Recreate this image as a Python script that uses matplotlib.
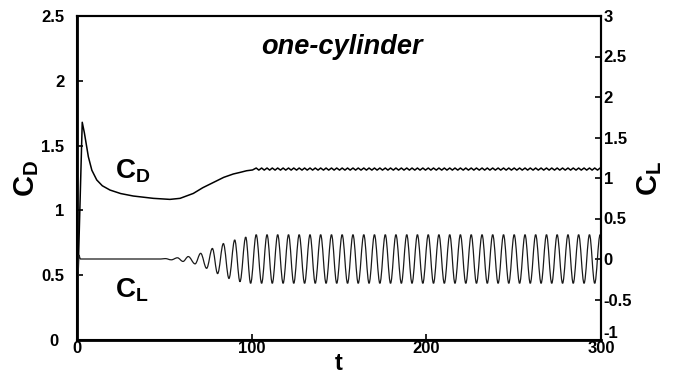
import numpy as np
import matplotlib
matplotlib.use("Agg")
import matplotlib.pyplot as plt
import matplotlib.transforms as mtransforms
from matplotlib.path import Path
from matplotlib.patches import PathPatch

plt.rcParams['font.family'] = ['Liberation Sans', 'DejaVu Sans']
plt.rcParams['mathtext.fontset'] = 'custom'
plt.rcParams['mathtext.bf'] = 'Liberation Sans:bold'
plt.rcParams['mathtext.rm'] = 'Liberation Sans:bold'
plt.rcParams['mathtext.it'] = 'Liberation Sans:bold:italic'

# ---------------- data ----------------
# drag coefficient: start-up transient (mean curve)
cd_t = [0, 0.3, 3.0, 4.2, 6.5, 8.5, 11.3, 14.5, 18.9, 25, 32.2, 43.7, 53.2,
        59, 66.6, 72, 78, 84, 89.5, 93.3, 97.1, 100.5]
cd_v = [0, 0.35, 1.68, 1.60, 1.414, 1.31, 1.235, 1.19, 1.157, 1.13, 1.111,
        1.093, 1.085, 1.093, 1.131, 1.175, 1.215, 1.255, 1.281, 1.293, 1.306, 1.312]

# drag coefficient: small wiggle in the periodic regime
cd_hi_t = [102.6, 105.7, 108.8, 111.8, 114.9, 118.0, 121.1, 124.1, 127.2, 130.3,
           133.4, 136.4, 139.5, 142.6, 145.7, 148.7, 151.8, 154.9, 158.0, 161.0,
           164.2, 167.2, 170.3, 173.4, 176.5, 179.5, 182.6, 185.7, 188.8, 191.8,
           194.9, 198.0, 201.1, 204.1, 207.2, 210.3, 213.4, 216.4, 219.5, 222.6,
           225.7, 228.7, 231.9, 234.9, 238.0, 241.1, 244.2, 247.2, 250.3, 253.4,
           256.5, 259.5, 262.6, 265.7, 268.8, 271.8, 274.9, 278.0, 281.1, 284.1,
           287.2, 290.3, 293.4, 296.4, 299.5]
cd_lo_t = [104.1, 107.2, 110.3, 113.4, 116.5, 119.5, 122.6, 125.7, 128.8, 131.8,
           134.9, 138.0, 141.1, 144.1, 147.2, 150.3, 153.4, 156.4, 159.5, 162.6,
           165.7, 168.8, 171.8, 174.9, 178.0, 181.1, 184.1, 187.2, 190.3, 193.4,
           196.4, 199.5, 202.6, 205.7, 208.8, 211.8, 214.9, 218.0, 221.1, 224.1,
           227.2, 230.3, 233.4, 236.4, 239.5, 242.6, 245.7, 248.7, 251.8, 254.9,
           258.0, 261.1, 264.1, 267.2, 270.3, 273.4, 276.4, 279.5, 282.6, 285.7,
           288.7, 291.8, 294.9, 298.0]
cd_hi_v = 1.327
cd_lo_v = 1.311

# lift coefficient: extrema of the signal (start-up, growth, periodic regime)
cl_t = [0, 0.4, 1.0, 2.0, 48, 50.5, 54, 57.5, 60.7, 63.7, 67.6, 70.8, 74.2,
        77.5, 80.5, 83.8, 87.0, 90.3, 93.3, 96.6, 99.4] + cd_hi_t + [300]
cl_v = [0, -0.6, 0.05, 0, 0, 0.005, -0.01, 0.015, -0.03, 0.03, -0.06, 0.07,
        -0.115, 0.13, -0.18, 0.19, -0.24, 0.235, -0.28, 0.27, -0.30,
        0.30, -0.30, 0.30, -0.30, 0.30, -0.30, 0.30, -0.30, 0.30, -0.30,
        0.30, -0.30, 0.30, -0.30, 0.30, -0.30, 0.30, -0.30, 0.30, -0.30,
        0.30, -0.30, 0.30, -0.30, 0.30, -0.30, 0.30, -0.30, 0.30, -0.30,
        0.30, -0.30, 0.30, -0.30, 0.30, -0.30, 0.30, -0.30, 0.30, -0.30,
        0.30, -0.30, 0.30, -0.30, 0.30, -0.30, 0.30, -0.30, 0.30, -0.30,
        0.30, -0.30, 0.30, -0.30, 0.30, -0.30, 0.30, -0.30, 0.30, -0.30,
        0.30, -0.30, 0.30, -0.30, 0.30, 0.29]

x_ticks = [0, 100, 200, 300]
cd_ticks = [0, 0.5, 1, 1.5, 2, 2.5]
cd_tick_labels = ['0', '0.5', '1', '1.5', '2', '2.5']
cl_ticks = [-1, -0.5, 0, 0.5, 1, 1.5, 2, 2.5, 3]
cl_tick_labels = ['-1', '-0.5', '0', '0.5', '1', '1.5', '2', '2.5', '3']

# ---------------- assemble CD series ----------------
wig = sorted([(t, cd_hi_v) for t in cd_hi_t] + [(t, cd_lo_v) for t in cd_lo_t])
cd_all_t = cd_t + [w[0] for w in wig]
cd_all_v = cd_v + [w[1] for w in wig]

# ---------------- figure ----------------
fig = plt.figure(figsize=(6.78, 3.76), dpi=100)
ax = fig.add_axes([77/678, 36/376, 524/678, 324/376])
ax2 = ax.twinx()

ax.plot(cd_all_t, cd_all_v, color='black', lw=1.1, zorder=3)

# CL drawn as smooth Bezier segments between its read extrema
c = 0.363
verts = [(cl_t[0], cl_v[0])]
codes = [Path.MOVETO]
for i in range(len(cl_t) - 1):
    t0, v0, t1, v1 = cl_t[i], cl_v[i], cl_t[i + 1], cl_v[i + 1]
    dt = t1 - t0
    verts += [(t0 + c * dt, v0), (t1 - c * dt, v1), (t1, v1)]
    codes += [Path.CURVE4] * 3
ax2.add_patch(PathPatch(Path(verts, codes), fill=False, edgecolor='#1a1a1a',
                        lw=0.9, zorder=2))

ax.set_xlim(0, 300)
ax.set_ylim(0, 2.5)
ax2.set_ylim(-1, 3)

ax.set_xticks(x_ticks)
ax.set_xticklabels([str(v) for v in x_ticks])
ax.set_yticks(cd_ticks)
ax.set_yticklabels(cd_tick_labels)
ax2.set_yticks(cl_ticks)
ax2.set_yticklabels(cl_tick_labels)

for a in (ax, ax2):
    a.tick_params(direction='in', length=4, width=1.2, labelsize=12, pad=2)
    for lab in a.get_xticklabels() + a.get_yticklabels():
        lab.set_fontweight('bold')
    for s in a.spines.values():
        s.set_linewidth(1.5)
ax.spines['left'].set_linewidth(2.0)
ax.spines['bottom'].set_linewidth(2.0)
ax.tick_params(axis='x', pad=1)
ax.tick_params(axis='y', pad=9)

# the lowest labels are nudged apart as in the reference
ylab0 = ax.get_yticklabels()[0]
ylab0.set_transform(ylab0.get_transform() +
                    mtransforms.ScaledTranslation(-6/100, 0, fig.dpi_scale_trans))
rlab0 = ax2.get_yticklabels()[0]
rlab0.set_transform(rlab0.get_transform() +
                    mtransforms.ScaledTranslation(0, 8/100, fig.dpi_scale_trans))

ax.set_xlabel('t', fontsize=17, fontweight='bold', labelpad=-3)
ax.set_ylabel(r'$\mathbf{C_D}$', fontsize=21, labelpad=0)
ax2.set_ylabel(r'$\mathbf{C_L}$', fontsize=21, rotation=90, labelpad=2)

ax.text(0.505, 0.905, 'one-cylinder', transform=ax.transAxes, ha='center',
        va='center', fontsize=19.5, fontweight='bold', fontstyle='italic')
ax.text(0.072, 0.52, r'$\mathbf{C_D}$', transform=ax.transAxes,
        fontsize=20, ha='left', va='center')
ax.text(0.072, 0.155, r'$\mathbf{C_L}$', transform=ax.transAxes,
        fontsize=20, ha='left', va='center')

fig.savefig('out.png', dpi=100)
